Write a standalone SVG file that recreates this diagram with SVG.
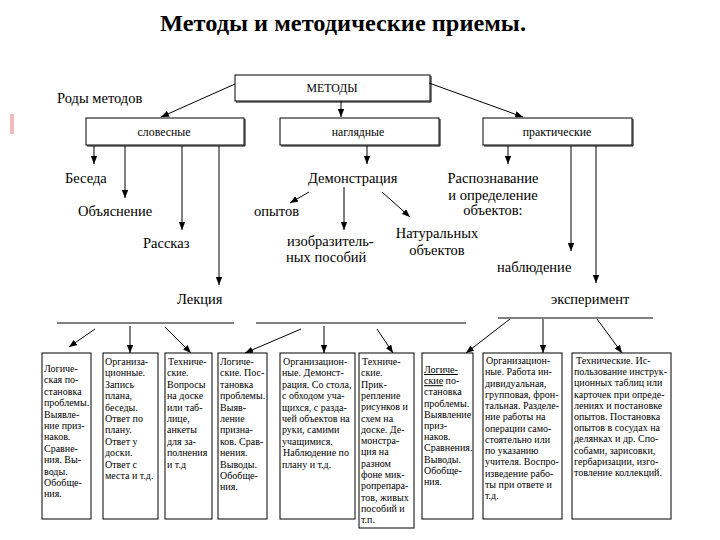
<svg xmlns="http://www.w3.org/2000/svg" width="720" height="540" viewBox="0 0 720 540" font-family="'Liberation Serif', 'DejaVu Serif', 'Times New Roman', serif">
<style>
text{font-family:'Liberation Serif','DejaVu Serif','Times New Roman',serif;fill:#000}
.title{font-size:24px;font-weight:bold}
.lbl{font-size:14.5px}
.hd{font-size:11.8px}
.bt{font-size:10px}
.box{fill:#fff;stroke:#000;stroke-width:1}
.sh{fill:none;stroke:#000;stroke-width:1}
.c{fill:none;stroke:#000;stroke-width:1}
.ca{fill:none;stroke:#000;stroke-width:1;marker-end:url(#ah)}
</style>
<defs>
<marker id="ah" viewBox="0 0 10 8" refX="10" refY="4" markerWidth="8" markerHeight="6.4" markerUnits="userSpaceOnUse" orient="auto"><path d="M0,0 L10,4 L0,8 z" fill="#000"/></marker>
</defs>
<rect width="720" height="540" fill="#fff"/>
<rect x="10" y="114" width="4" height="20" fill="#f3a9a9" opacity="0.8"/>
<text class="title" x="343" y="31" text-anchor="middle" textLength="366" lengthAdjust="spacingAndGlyphs">Методы и методические приемы.</text>
<text class="lbl" x="57" y="103">Роды методов</text>

<g id="n-metody"><rect class="box" x="235" y="75" width="195" height="26"/><path class="sh" d="M236,102 H431 V76"/><text class="hd" x="332" y="92" text-anchor="middle">МЕТОДЫ</text></g>
<g id="n-slovesnye"><rect class="box" x="86" y="118" width="158" height="27"/><path class="sh" d="M87,146 H245 V119"/><text class="hd" x="164" y="136" text-anchor="middle">словесные</text></g>
<g id="n-naglyadnye"><rect class="box" x="280" y="118" width="159" height="27"/><path class="sh" d="M281,146 H440 V119"/><text class="hd" x="358" y="136" text-anchor="middle">наглядные</text></g>
<g id="n-prakticheskie"><rect class="box" x="483" y="118" width="149" height="27"/><path class="sh" d="M484,146 H633 V119"/><text class="hd" x="557" y="136" text-anchor="middle">практические</text></g>

<g id="n-beseda"><text class="lbl" x="65" y="183">Беседа</text></g>
<g id="n-obyasnenie"><text class="lbl" x="78" y="216">Объяснение</text></g>
<g id="n-rasskaz"><text class="lbl" x="143" y="248">Рассказ</text></g>
<g id="n-lekciya"><text class="lbl" x="177" y="304">Лекция</text></g>
<g id="n-demonstr"><text class="lbl" x="308" y="183">Демонстрация</text></g>
<g id="n-opytov"><text class="lbl" x="254" y="216">опытов</text></g>
<g id="n-izobr"><text class="lbl" x="287" y="246">изобразитель-</text><text class="lbl" x="286" y="262">ных пособий</text></g>
<g id="n-natur"><text class="lbl" x="437" y="238" text-anchor="middle">Натуральных</text><text class="lbl" x="437" y="255" text-anchor="middle">объектов</text></g>
<g id="n-raspozn"><text class="lbl" x="493" y="183" text-anchor="middle">Распознавание</text><text class="lbl" x="493" y="200" text-anchor="middle">и определение</text><text class="lbl" x="493" y="215" text-anchor="middle">объектов:</text></g>
<g id="n-nablyud"><text class="lbl" x="497" y="272">наблюдение</text></g>
<g id="n-eksper"><text class="lbl" x="551" y="304">эксперимент</text></g>

<g id="connectors">
<path class="ca" d="M235,84 L161,117"/>
<path class="ca" d="M341,101 V117"/>
<path class="ca" d="M429,83 L523,117"/>
<path class="ca" d="M94,146 V164"/>
<path class="ca" d="M125,146 V198"/>
<path class="ca" d="M182,146 V230"/>
<path class="ca" d="M219,146 V285"/>
<path class="ca" d="M367,146 V164"/>
<path class="ca" d="M508,146 V164"/>
<path class="ca" d="M571,146 V251"/>
<path class="ca" d="M596,146 V283"/>
<path class="ca" d="M309,192 L290,203"/>
<path class="ca" d="M344,187 V230"/>
<path class="ca" d="M382,192 L410,217"/>
<path class="c" d="M57,323 H234"/>
<path class="c" d="M256,323 H466"/>
<path class="c" d="M498,318 H653"/>
<path class="ca" d="M95,329 L69,347"/>
<path class="ca" d="M130,326 V353"/>
<path class="ca" d="M165,327 L191,353"/>
<path class="ca" d="M301,329 L245,353"/>
<path class="ca" d="M324,326 V353"/>
<path class="ca" d="M377,329 L393,353"/>
<path class="ca" d="M510,319 L466,353"/>
<path class="ca" d="M543,319 V353"/>
<path class="ca" d="M597,319 L622,353"/>
</g>

<g id="b1"><rect class="box" x="42" y="353" width="49" height="166"/>
<text class="bt"><tspan x="44" y="372">Логиче-</tspan><tspan x="44" dy="11.4">ская  по-</tspan><tspan x="44" dy="11.4">становка</tspan><tspan x="44" dy="11.4">проблемы.</tspan><tspan x="44" dy="11.4">Выявле-</tspan><tspan x="44" dy="11.4">ние приз-</tspan><tspan x="44" dy="11.4">наков.</tspan><tspan x="44" dy="11.4">Сравне-</tspan><tspan x="44" dy="11.4">ния.  Вы-</tspan><tspan x="44" dy="11.4">воды.</tspan><tspan x="44" dy="11.4">Обобще-</tspan><tspan x="44" dy="11.4">ния.</tspan></text></g>

<g id="b2"><rect class="box" x="103" y="353" width="55" height="166"/>
<text class="bt"><tspan x="105" y="365">Организа-</tspan><tspan x="105" dy="11.4">ционные.</tspan><tspan x="105" dy="11.4">Запись</tspan><tspan x="105" dy="11.4">плана,</tspan><tspan x="105" dy="11.4">беседы.</tspan><tspan x="105" dy="11.4">Ответ по</tspan><tspan x="105" dy="11.4">плану.</tspan><tspan x="105" dy="11.4">Ответ у</tspan><tspan x="105" dy="11.4">доски.</tspan><tspan x="105" dy="11.4">Ответ с</tspan><tspan x="105" dy="11.4">места и т.д.</tspan></text></g>

<g id="b3"><rect class="box" x="165" y="353" width="47" height="166"/>
<text class="bt"><tspan x="168" y="365">Техниче-</tspan><tspan x="167" dy="11.4">ские.</tspan><tspan x="167" dy="11.4">Вопросы</tspan><tspan x="167" dy="11.4">на доске</tspan><tspan x="167" dy="11.4">или таб-</tspan><tspan x="167" dy="11.4">лице,</tspan><tspan x="167" dy="11.4">анкеты</tspan><tspan x="167" dy="11.4">для за-</tspan><tspan x="167" dy="11.4">полнения</tspan><tspan x="167" dy="11.4">и т.д</tspan></text></g>

<g id="b4"><rect class="box" x="218" y="353" width="49" height="166"/>
<text class="bt"><tspan x="220" y="365">Логиче-</tspan><tspan x="220" dy="11.4">ские. Пос-</tspan><tspan x="220" dy="11.4">тановка</tspan><tspan x="220" dy="11.4">проблемы.</tspan><tspan x="220" dy="11.4">Выяв-</tspan><tspan x="220" dy="11.4">ление</tspan><tspan x="220" dy="11.4">призна-</tspan><tspan x="220" dy="11.4">ков. Срав-</tspan><tspan x="220" dy="11.4">нения.</tspan><tspan x="220" dy="11.4">Выводы.</tspan><tspan x="220" dy="11.4">Обобще-</tspan><tspan x="220" dy="11.4">ния.</tspan></text></g>

<g id="b5"><rect class="box" x="280" y="353" width="75" height="166"/>
<text class="bt"><tspan x="283" y="365">Организацион-</tspan><tspan x="282" dy="11.4">ные. Демонст-</tspan><tspan x="282" dy="11.4">рация. Со стола,</tspan><tspan x="282" dy="11.4">с обходом уча-</tspan><tspan x="282" dy="11.4">щихся, с разда-</tspan><tspan x="282" dy="11.4">чей объектов на</tspan><tspan x="282" dy="11.4">руки, самими</tspan><tspan x="282" dy="11.4">учащимися.</tspan><tspan x="283" dy="11.4">Наблюдение по</tspan><tspan x="282" dy="11.4">плану и т.д.</tspan></text></g>

<g id="b6"><rect class="box" x="359" y="353" width="55" height="175"/>
<text class="bt"><tspan x="362" y="365">Техниче-</tspan><tspan x="361" dy="11.3">ские.</tspan><tspan x="361" dy="11.3">Прик-</tspan><tspan x="361" dy="11.3">репление</tspan><tspan x="361" dy="11.3">рисунков и</tspan><tspan x="361" dy="11.3">схем на</tspan><tspan x="361" dy="11.3">доске. Де-</tspan><tspan x="361" dy="11.3">монстра-</tspan><tspan x="361" dy="11.3">ция на</tspan><tspan x="361" dy="11.3">разном</tspan><tspan x="361" dy="11.3">фоне мик-</tspan><tspan x="361" dy="11.3">ропрепара-</tspan><tspan x="361" dy="11.3">тов, живых</tspan><tspan x="361" dy="11.3">пособий и</tspan><tspan x="361" dy="11.3">т.п.</tspan></text></g>

<g id="b7"><rect class="box" x="422" y="353" width="51" height="166"/>
<text class="bt"><tspan x="424" y="373" text-decoration="underline">Логиче-</tspan><tspan x="424" dy="11.2"><tspan text-decoration="underline">ские</tspan> по-</tspan><tspan x="424" dy="11.2">становка</tspan><tspan x="424" dy="11.2">проблемы.</tspan><tspan x="424" dy="11.2">Выявление</tspan><tspan x="424" dy="11.2">приз-</tspan><tspan x="424" dy="11.2">наков.</tspan><tspan x="424" dy="11.2">Сравнения.</tspan><tspan x="424" dy="11.2">Выводы.</tspan><tspan x="424" dy="11.2">Обобще-</tspan><tspan x="424" dy="11.2">ния.</tspan></text></g>

<g id="b8"><rect class="box" x="483" y="353" width="79" height="166"/>
<text class="bt"><tspan x="486" y="364">Организацион-</tspan><tspan x="485" dy="11.25">ные. Работа ин-</tspan><tspan x="485" dy="11.25">дивидуальная,</tspan><tspan x="485" dy="11.25">групповая, фрон-</tspan><tspan x="485" dy="11.25">тальная. Разделе-</tspan><tspan x="485" dy="11.25">ние работы на</tspan><tspan x="485" dy="11.25">операции само-</tspan><tspan x="485" dy="11.25">стоятельно или</tspan><tspan x="485" dy="11.25">по указанию</tspan><tspan x="485" dy="11.25">учителя. Воспро-</tspan><tspan x="485" dy="11.25">изведение рабо-</tspan><tspan x="485" dy="11.25">ты при ответе и</tspan><tspan x="485" dy="11.25">т.д.</tspan></text></g>

<g id="b9"><rect class="box" x="572" y="353" width="99" height="166"/>
<text class="bt"><tspan x="576" y="364">Технические. Ис-</tspan><tspan x="574" dy="11.2">пользование инструк-</tspan><tspan x="574" dy="11.2">ционных таблиц или</tspan><tspan x="574" dy="11.2">карточек при опреде-</tspan><tspan x="574" dy="11.2">лениях и постановке</tspan><tspan x="574" dy="11.2">опытов. Постановка</tspan><tspan x="574" dy="11.2">опытов в сосудах на</tspan><tspan x="574" dy="11.2">делянках и др. Спо-</tspan><tspan x="574" dy="11.2">собами, зарисовки,</tspan><tspan x="574" dy="11.2">гербаризации, изго-</tspan><tspan x="574" dy="11.2">товление коллекций.</tspan></text></g>
</svg>
